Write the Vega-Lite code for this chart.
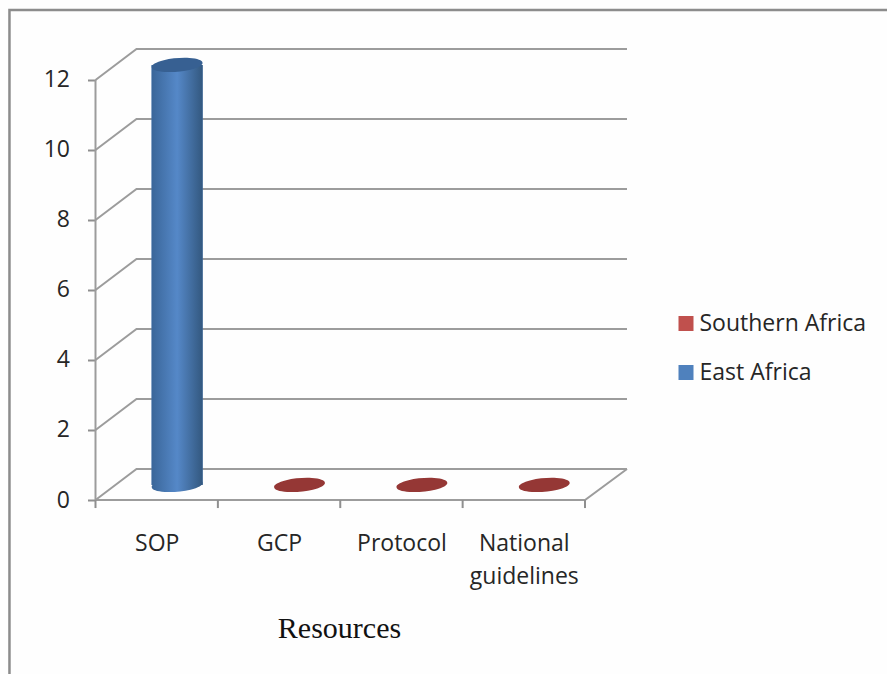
{
"$schema":"https://vega.github.io/schema/vega-lite/v6.json",
"width":531.5,"height":452,
"autosize":"none",
"padding":{"left":95.5,"top":48,"right":260,"bottom":174},
"background":"#fefefe",
"config":{"view":{"stroke":null}},
"datasets":{
"frame":[{"x":-0.703,"y":-5,"step":0},{"x":-0.703,"y":14,"step":1},{"x":6.47,"y":14,"step":2}],
"grid":[
{"line":"wall","x":0,"y":0,"step":0},{"line":"wall","x":0,"y":12,"step":1},
{"line":"floor","x":0,"y":0,"step":0},{"line":"floor","x":4,"y":0,"step":1},{"line":"floor","x":4.343,"y":0.886,"step":2},
{"line":"g0","x":0,"y":0,"step":0},{"line":"g0","x":0.335,"y":0.886,"step":1},{"line":"g0","x":4.343,"y":0.886,"step":2},
{"line":"g2","x":0,"y":2,"step":0},{"line":"g2","x":0.335,"y":2.886,"step":1},{"line":"g2","x":4.343,"y":2.886,"step":2},
{"line":"g4","x":0,"y":4,"step":0},{"line":"g4","x":0.335,"y":4.886,"step":1},{"line":"g4","x":4.343,"y":4.886,"step":2},
{"line":"g6","x":0,"y":6,"step":0},{"line":"g6","x":0.335,"y":6.886,"step":1},{"line":"g6","x":4.343,"y":6.886,"step":2},
{"line":"g8","x":0,"y":8,"step":0},{"line":"g8","x":0.335,"y":8.886,"step":1},{"line":"g8","x":4.343,"y":8.886,"step":2},
{"line":"g10","x":0,"y":10,"step":0},{"line":"g10","x":0.335,"y":10.886,"step":1},{"line":"g10","x":4.343,"y":10.886,"step":2},
{"line":"g12","x":0,"y":12,"step":0},{"line":"g12","x":0.335,"y":12.886,"step":1},{"line":"g12","x":4.343,"y":12.886,"step":2}
],
"ticks":[{"x":0,"y":0,"y0":-0.23},{"x":1,"y":0,"y0":-0.23},{"x":2,"y":0,"y0":-0.23},{"x":3,"y":0,"y0":-0.23},{"x":4,"y":0,"y0":-0.23}],
"bars":[
{"resource":"SOP","region":"East Africa","value":12,"x":0.667,"y":12.43,"y0":0.43},
{"resource":"GCP","region":"Southern Africa","value":0,"x":1.667,"y":0.43,"y0":0.43},
{"resource":"Protocol","region":"Southern Africa","value":0,"x":2.667,"y":0.43,"y0":0.43},
{"resource":"National guidelines","region":"Southern Africa","value":0,"x":3.667,"y":0.43,"y0":0.43}
]
},
"encoding":{
"x":{"field":"x","type":"quantitative","scale":{"domain":[0,4.343],"nice":false,"zero":false,"padding":0},
 "axis":{"values":[0.5,1.5,2.5,3.5],"labelExpr":"datum.value==0.5?'SOP':datum.value==1.5?'GCP':datum.value==2.5?'Protocol':['National','guidelines']",
  "domain":false,"grid":false,"ticks":false,"labelFont":"Open Sans","labelFontSize":23,"labelColor":"#262626","labelPadding":50,"labelLineHeight":33,"labelBaseline":"alphabetic","labelOverlap":false,"labelFlush":false,
  "title":"Resources","titleFont":"Liberation Serif","titleFontSize":30,"titleFontWeight":"normal","titleColor":"#111111","titleX":243.5,"titleY":137,"titleAlign":"center","titleAnchor":null,"titleBaseline":"alphabetic"}},
"y":{"field":"y","type":"quantitative","scale":{"domain":[0,12.914],"nice":false,"zero":false,"padding":0},
 "axis":{"values":[0,2,4,6,8,10,12],"domain":false,"grid":false,"tickSize":8,"tickWidth":2,"tickColor":"#8f8f8f","labelFont":"Open Sans","labelFontSize":23,"labelColor":"#262626","labelPadding":18,"title":null}}
},
"layer":[
{"data":{"name":"frame"},"mark":{"type":"line","color":"#8c8c8c","strokeWidth":2.5},"encoding":{"order":{"field":"step"}}},
{"data":{"name":"grid"},"mark":{"type":"line","color":"#9c9c9c","strokeWidth":2},"encoding":{"detail":{"field":"line"},"order":{"field":"step"}}},
{"data":{"name":"ticks"},"mark":{"type":"rule","color":"#8f8f8f","strokeWidth":2},"encoding":{"y2":{"field":"y0"}}},
{"data":{"name":"bars"},"mark":{"type":"bar","width":51,"stroke":null},
 "encoding":{"y2":{"field":"y0"},"color":{"field":"region","type":"nominal","scale":{"domain":["Southern Africa","East Africa"],"range":["#c0504d","#4f81bd"]},
  "legend":{"title":null,"orient":"none","legendX":579,"legendY":264,"symbolType":"square","symbolSize":225,"symbolStrokeWidth":0,"labelFont":"Open Sans","labelFontSize":23,"labelColor":"#262626","labelLimit":400,"rowPadding":25,"labelOffset":2,"padding":0}}}},
{"data":{"name":"bars"},"transform":[{"filter":"datum.region==='East Africa'"}],"mark":{"type":"point","filled":true,"size":2601,"opacity":1,"stroke":null,"shape":"M-0.996,0.087A1,0.26,-5,1,1,0.996,-0.087A1,0.26,-5,1,1,-0.996,0.087Z","fill":{"x1":0,"x2":1,"y1":0,"y2":0,"gradient":"linear","stops":[{"offset":0,"color":"#3a6699"},{"offset":0.5,"color":"#5588c8"},{"offset":1,"color":"#33587f"}]}},
 "encoding":{"y":{"field":"y0","type":"quantitative"}}},
{"data":{"name":"bars"},"transform":[{"filter":"datum.region==='East Africa'"}],"mark":{"type":"bar","width":51,"stroke":null,"fill":{"x1":0,"x2":1,"y1":0,"y2":0,"gradient":"linear","stops":[{"offset":0,"color":"#3a6699"},{"offset":0.5,"color":"#5588c8"},{"offset":1,"color":"#33587f"}]}},
 "encoding":{"y2":{"field":"y0"}}},
{"data":{"name":"bars"},"mark":{"type":"point","filled":true,"size":2601,"opacity":1,"stroke":null,"shape":"M-0.996,0.087A1,0.26,-5,1,1,0.996,-0.087A1,0.26,-5,1,1,-0.996,0.087Z"},
 "encoding":{"fill":{"condition":{"test":"datum.region==='East Africa'","value":"#376092"},"value":"#953735"}}}
]
}
